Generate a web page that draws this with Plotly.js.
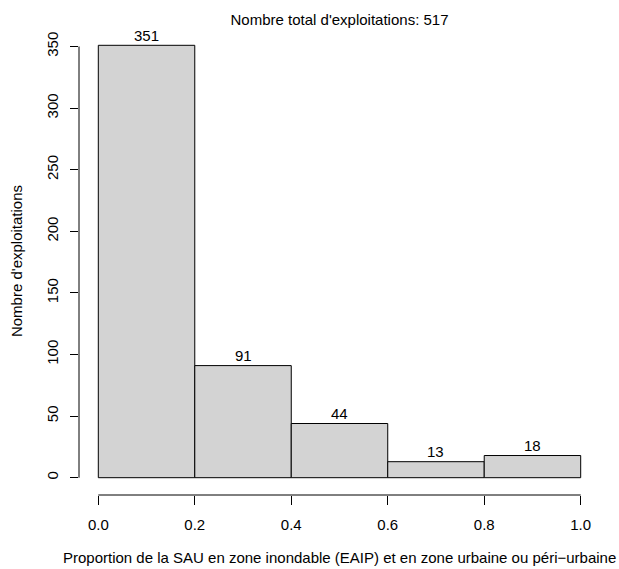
<!DOCTYPE html>
<html>
<head>
<meta charset="utf-8">
<script src="https://cdn.plot.ly/plotly-3.0.1.min.js"></script>
<style>html,body{margin:0;padding:0;background:#fff;}#chart{width:619px;height:569px;}</style>
</head>
<body>
<div id="chart"></div>
<script>
// Data
var binCenters = [0.1, 0.3, 0.5, 0.7, 0.9];
var binWidths = [0.2, 0.2, 0.2, 0.2, 0.2];
var counts = [351, 91, 44, 13, 18];
var xTicks = [0, 0.2, 0.4, 0.6, 0.8, 1.0];
var yTicks = [0, 50, 100, 150, 200, 250, 300, 350];
var titleText = "Nombre total d'exploitations: " + counts.reduce(function(a,b){return a+b;}, 0);
var xTitle = "Proportion de la SAU en zone inondable (EAIP) et en zone urbaine ou péri\u2212urbaine";
var yTitle = "Nombre d'exploitations";

var FONT = "Liberation Sans, Arial, Helvetica, sans-serif";
var FS = 15;

var trace = {
  type: 'bar',
  x: binCenters,
  y: counts,
  width: binWidths,
  marker: {color: '#D3D3D3', line: {color: '#000', width: 1}},
  hoverinfo: 'x+y',
  showlegend: false
};

var W = 619, H = 569;
var mL = 79.4, mR = 18.7, mT = 27.5, mB = 74;
var plotW = W - mL - mR, plotH = H - mT - mB;

var barLabels = binCenters.map(function(xc, i) {
  return {text: String(counts[i]), xref: 'x', yref: 'y', x: xc, y: counts[i],
          xanchor: 'center', yanchor: 'middle', yshift: 10, showarrow: false,
          font: {family: FONT, size: FS, color: '#000'}};
});

var layout = {
  width: W, height: H,
  margin: {l: mL, r: mR, t: mT, b: mB, pad: 0},
  paper_bgcolor: '#fff',
  plot_bgcolor: '#fff',
  font: {family: FONT, size: FS, color: '#000'},
  bargap: 0,
  title: {
    text: titleText,
    font: {family: FONT, size: FS, color: '#000'},
    xref: 'paper', x: 0.5, xanchor: 'center',
    yref: 'container', y: 1 - 20 / H, yanchor: 'middle'
  },
  xaxis: {
    range: [-0.04, 1.04],
    tickmode: 'array', tickvals: xTicks,
    ticktext: xTicks.map(function(v){return v.toFixed(1);}),
    ticks: 'outside', ticklen: 9, tickwidth: 1, tickcolor: '#000',
    ticklabelstandoff: 7,
    showline: false, showgrid: false, zeroline: false,
    tickfont: {family: FONT, size: FS, color: '#000'},
    fixedrange: true
  },
  yaxis: {
    range: [-14.04, 365.04],
    tickmode: 'array', tickvals: yTicks,
    ticktext: yTicks.map(String),
    ticks: 'outside', ticklen: 8.5, tickwidth: 1, tickcolor: '#000',
    tickangle: -90,
    ticklabelstandoff: 6,
    showline: false, showgrid: false, zeroline: false,
    tickfont: {family: FONT, size: FS, color: '#000'},
    fixedrange: true
  },
  shapes: [
    {type: 'line', xref: 'x', yref: 'paper', x0: xTicks[0], x1: xTicks[xTicks.length-1], y0: 0, y1: 0,
     line: {color: '#000', width: 1}},
    {type: 'line', xref: 'paper', yref: 'y', x0: 0, x1: 0, y0: yTicks[0], y1: yTicks[yTicks.length-1],
     line: {color: '#000', width: 1}}
  ],
  annotations: [
    {text: xTitle, xref: 'paper', yref: 'paper', x: 0.5, y: -(558 - (H - mB)) / plotH,
     xanchor: 'center', yanchor: 'middle', showarrow: false,
     font: {family: FONT, size: FS, color: '#000'}},
    {text: yTitle, xref: 'paper', yref: 'paper', x: (17 - mL) / plotW, y: 0.5,
     xanchor: 'center', yanchor: 'middle', textangle: -90, showarrow: false,
     font: {family: FONT, size: FS, color: '#000'}}
  ].concat(barLabels)
};

Plotly.newPlot('chart', [trace], layout, {displayModeBar: false, staticPlot: true});
</script>
</body>
</html>
